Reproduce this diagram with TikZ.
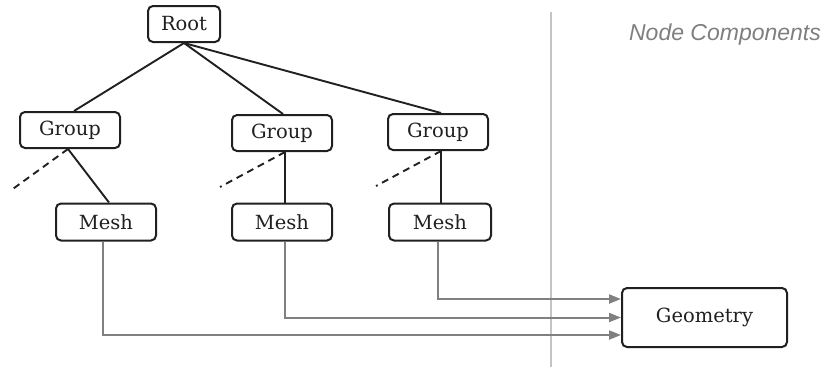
\documentclass[tikz,border=0pt]{standalone}
\usepackage{fontspec}
\setmainfont{DejaVu Serif}
\newfontfamily\labelsans{Liberation Sans}
\usetikzlibrary{arrows.meta}
\definecolor{arrowgray}{HTML}{808080}
\definecolor{divgray}{HTML}{C4C4C4}
\definecolor{titlegray}{HTML}{7F7F7F}
\definecolor{ink}{HTML}{202020}
\tikzset{
  box/.style={draw=ink, line width=2pt, rounded corners=5pt, fill=white,
    minimum width=100pt, minimum height=36pt, inner sep=0pt,
    font=\fontsize{19.5}{22}\selectfont, text=ink},
  tree/.style={line width=1.9pt, draw=ink},
  dashlink/.style={line width=1.9pt, draw=ink, dash pattern=on 7pt off 5pt},
  ref/.style={line width=2pt, draw=arrowgray, -{Triangle[length=12pt,width=9pt]}},
}
\begin{document}
\begin{tikzpicture}[x=1pt,y=-1pt]
\useasboundingbox (0,0) rectangle (832,367);
\draw[divgray, line width=2pt] (551,12) -- (551,367);
\node[font=\labelsans\itshape\fontsize{23}{26}\selectfont, text=titlegray] (title) at (725,35) {Node Components};

\node[box, minimum width=72pt] (root) at (184,24) {Root};
\node[box] (g1) at (70,130) {Group};
\node[box] (g2) at (282,133) {Group};
\node[box] (g3) at (438,132) {Group};
\node[box, minimum height=37pt] (m1) at (106,222) {Mesh};
\node[box, minimum height=37pt] (m2) at (282,222) {Mesh};
\node[box, minimum height=37pt, minimum width=102pt] (m3) at (440,222) {Mesh};
\node[box, minimum width=165pt, minimum height=59pt] (geo) at (704.5,317.5) {Geometry};

\coordinate (d1) at (10,191);
\coordinate (d2) at (220,187);
\coordinate (d3) at (376,186);

\draw[tree] (root.south) -- ([xshift=4pt]g1.north);
\draw[tree] (root.south) -- ([xshift=1pt]g2.north);
\draw[tree] (root.south) -- ([xshift=3pt]g3.north);

\draw[tree] ([xshift=-2pt]g1.south) -- ([xshift=3pt]m1.north);
\draw[tree] ([xshift=3pt]g2.south) -- ([xshift=3pt]m2.north);
\draw[tree] ([xshift=3pt]g3.south) -- ([xshift=1pt]m3.north);

\draw[dashlink] ([xshift=-2pt]g1.south) -- (d1);
\draw[dashlink] ([xshift=3pt]g2.south) -- (d2);
\draw[dashlink] ([xshift=3pt]g3.south) -- (d3);

\draw[ref] ([xshift=-2pt]m3.south) |- ([yshift=18.5pt]geo.west);
\draw[ref] ([xshift=3pt]m2.south) |- (geo.west);
\draw[ref] ([xshift=-3pt]m1.south) |- ([yshift=-17.5pt]geo.west);
\end{tikzpicture}
\end{document}
